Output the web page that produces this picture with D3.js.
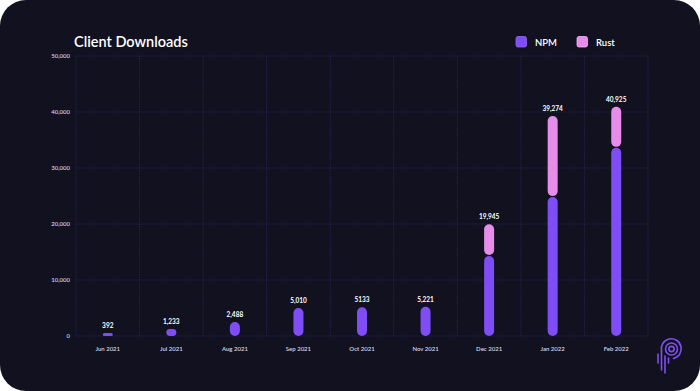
<!DOCTYPE html>
<html><head><meta charset="utf-8">
<script src="https://cdn.jsdelivr.net/npm/d3@7"></script>
<style>
html,body{margin:0;padding:0;background:#ffffff;}
svg{display:block;}
</style></head>
<body>
<svg id="chart" width="700" height="391"></svg>
<script>
const categories = ["Jun 2021","Jul 2021","Aug 2021","Sep 2021","Oct 2021","Nov 2021","Dec 2021","Jan 2022","Feb 2022"];
const npmValues  = [392, 1233, 2488, 5010, 5133, 5221, 14300, 24800, 33600];
const rustValues = [0, 0, 0, 0, 0, 0, 5645, 14474, 7325];
const totalLabels = ["392","1,233","2,488","5,010","5133","5,221","19,945","39,274","40,925"];
const yTicks = [0, 10000, 20000, 30000, 40000, 50000];
const seriesNames = ["NPM","Rust"];
const colors = {NPM:"#7f4df6", Rust:"#e68dea"};

const svg = d3.select("#chart");
const W = 700, H = 391;
const font = "Lato, 'Open Sans', sans-serif";

svg.append("rect").attr("x",0).attr("y",0).attr("width",W).attr("height",H)
  .attr("rx",26).attr("fill","#12111f");

const m = {left:76, right:648, top:56, bottom:336};
const x = d3.scaleBand().domain(categories).range([m.left, m.right]);
const y = d3.scaleLinear().domain([0,50000]).range([m.bottom, m.top]);

// grid
const grid = svg.append("g");
grid.selectAll("line.h").data(yTicks).join("line")
  .attr("x1",m.left).attr("x2",m.right)
  .attr("y1",d=>y(d)).attr("y2",d=>y(d))
  .attr("stroke","#2e2a66").attr("stroke-width",0.8).attr("stroke-dasharray","1.2,1.2");
const vb = categories.map(c=>x(c)).concat([m.right]);
grid.selectAll("line.v").data(vb).join("line")
  .attr("y1",m.top).attr("y2",m.bottom)
  .attr("x1",d=>d).attr("x2",d=>d)
  .attr("stroke","#2e2a66").attr("stroke-width",0.8).attr("stroke-dasharray","1.2,1.2");

// y axis
const yAxis = svg.append("g").attr("transform",`translate(${m.left-6},0)`)
  .call(d3.axisLeft(y).tickValues(yTicks).tickSize(0).tickPadding(0).tickFormat(d3.format(",")));
yAxis.select(".domain").remove();
yAxis.selectAll("text").attr("fill","#d8d6e8").style("font-family",font).style("font-size","6px").style("font-weight","600");

// x axis
const xAxis = svg.append("g").attr("transform",`translate(0,${m.bottom+11})`)
  .call(d3.axisBottom(x).tickSize(0).tickPadding(0));
xAxis.select(".domain").remove();
xAxis.selectAll("text").attr("fill","#d8d6e8").style("font-family",font).style("font-size","6px").style("font-weight","600");

// bars
const bw = 10;
const barsG = svg.append("g");
categories.forEach((c,i)=>{
  const cx = x(c) + x.bandwidth()/2;
  const n = npmValues[i], r = rustValues[i];
  const yTopN = y(n);
  let hN = Math.max(m.bottom - yTopN, 3);
  barsG.append("rect").attr("x",cx-bw/2).attr("y",m.bottom-hN).attr("width",bw).attr("height",hN)
    .attr("rx",Math.min(bw/2,hN/2)).attr("fill",colors.NPM);
  if (r>0){
    const y1 = y(n+r), y0 = y(n)-1;
    barsG.append("rect").attr("x",cx-bw/2).attr("y",y1).attr("width",bw).attr("height",y0-y1)
      .attr("rx",bw/2).attr("fill",colors.Rust);
  }
  const topY = Math.min(y(n+r), m.bottom-hN);
  svg.append("text").attr("x",cx).attr("y",topY-5).attr("text-anchor","middle")
    .attr("fill","#ffffff").style("font-family",font).style("font-size","6.5px").style("font-weight","700")
    .text(totalLabels[i]);
});

// title
svg.append("text").attr("x",74).attr("y",47).attr("fill","#ffffff")
  .style("font-family",font).style("font-size","14.5px").style("font-weight","600")
  .text("Client Downloads");

// legend
const legX = [516, 577];
seriesNames.forEach((s,i)=>{
  svg.append("rect").attr("x",legX[i]).attr("y",36.5).attr("width",10.5).attr("height",10.5)
    .attr("rx",2).attr("fill",colors[s]).attr("stroke",d3.color(colors[s]).brighter(0.6)).attr("stroke-width",0.8);
  svg.append("text").attr("x",legX[i]+19).attr("y",45.5).attr("fill","#ffffff")
    .style("font-family",font).style("font-size","9.5px").style("font-weight","600").text(s);
});

// logo
const lg = svg.append("g").attr("stroke","#7f4df6").attr("fill","none").attr("stroke-width",1.6).attr("stroke-linecap","round");
const lx = 671.5, ly = 349;
lg.append("path").attr("d",`M ${lx-10} ${ly+2} A 10 10 0 1 1 ${lx+2} ${ly+9.5}`);
lg.append("circle").attr("cx",lx).attr("cy",ly).attr("r",6);
lg.append("circle").attr("cx",lx).attr("cy",ly).attr("r",2.6);
lg.append("line").attr("x1",lx-10).attr("x2",lx-10).attr("y1",ly+2).attr("y2",ly+21);
lg.append("line").attr("x1",lx-6.5).attr("x2",lx-6.5).attr("y1",ly+7).attr("y2",ly+24);
lg.append("line").attr("x1",lx-13.5).attr("x2",lx-13.5).attr("y1",ly+5).attr("y2",ly+14);
lg.append("line").attr("x1",lx-3).attr("x2",lx-3).attr("y1",ly+9).attr("y2",ly+14);
</script>
</body></html>
